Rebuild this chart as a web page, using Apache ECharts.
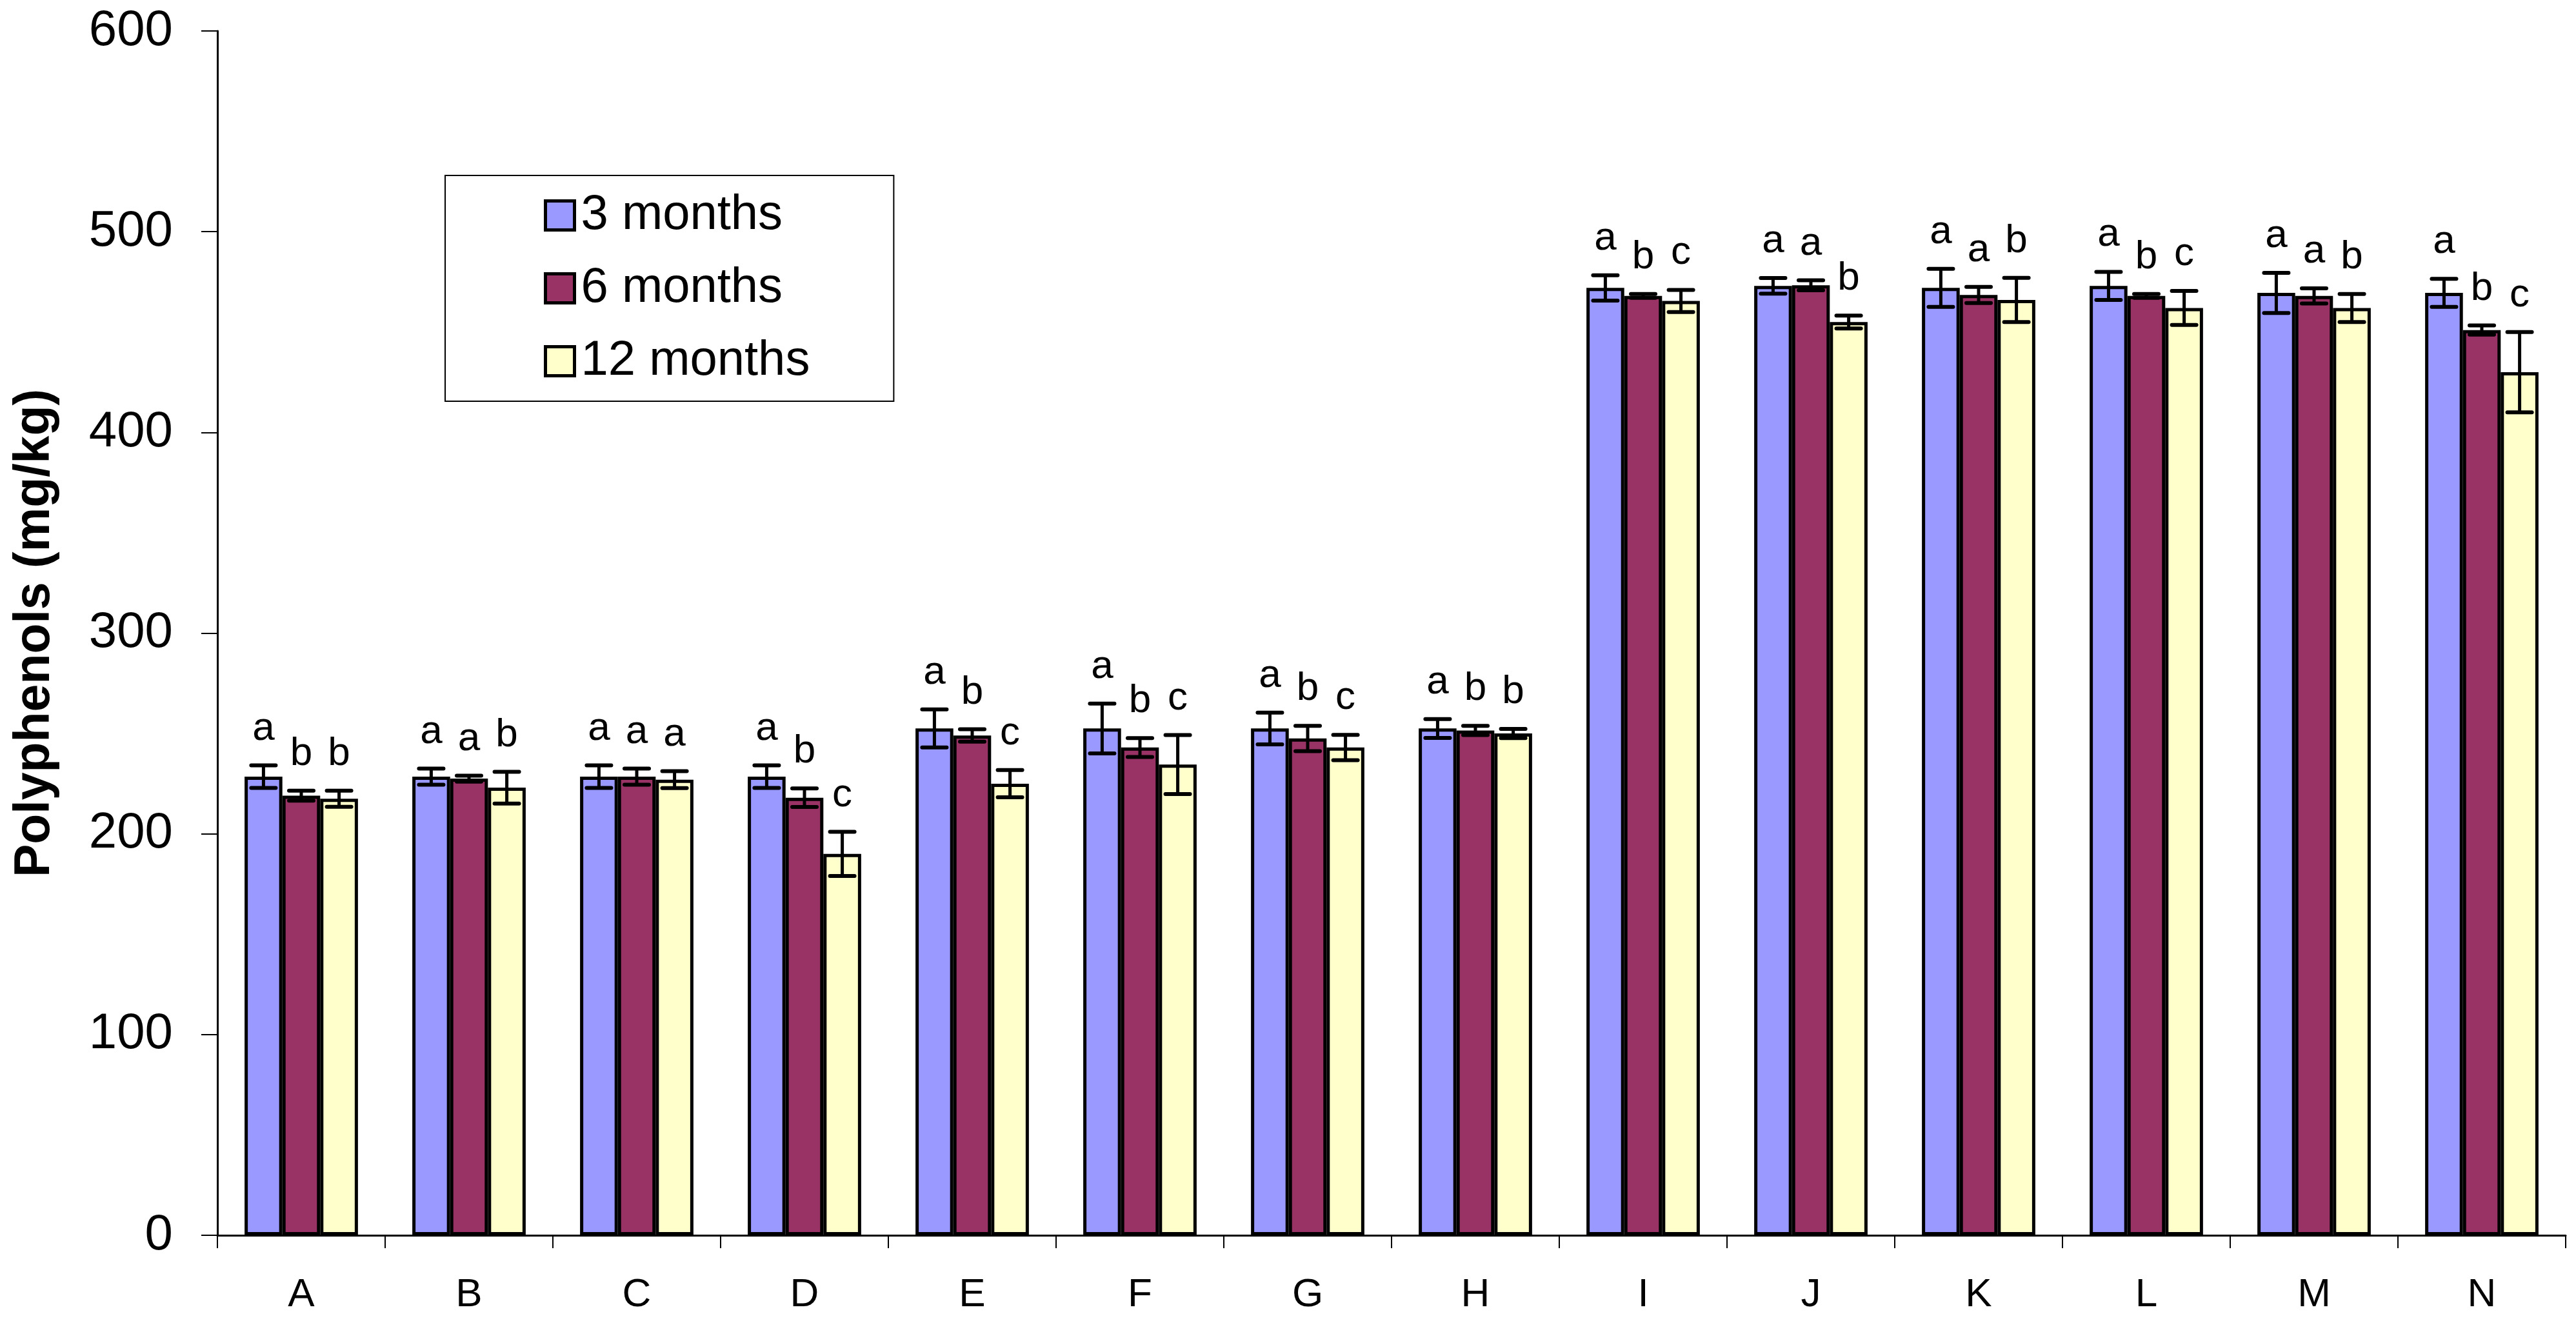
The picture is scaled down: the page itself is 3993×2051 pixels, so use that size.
<!DOCTYPE html>
<html>
<head>
<meta charset="utf-8">
<script src="https://cdn.jsdelivr.net/npm/echarts@6/dist/echarts.min.js"></script>
<style>
html,body{margin:0;padding:0;background:#fff;}
#chart{width:3993px;height:2051px;}
</style>
</head>
<body>
<div id="chart"></div>
<script>
const categories = ['A','B','C','D','E','F','G','H','I','J','K','L','M','N'];
const seriesNames = ['3 months','6 months','12 months'];
const yTicks = [0,100,200,300,400,500,600];

const m3  = [228.5,228.5,228.5,228.5,252.5,252.5,252.5,252.5,472,473,472,473,469.5,469.5];
const e3  = [5.6,4,5.6,5.6,9.5,12.4,7.9,4.7,6.3,3.9,9.5,7,10,7];
const m6  = [219,227.5,228.5,218,249,243,247.5,251.5,468,473.3,468.5,468,468,451];
const e6  = [2.5,1.5,4,4.6,3.1,4.7,6.3,2.3,1,2.5,4,1,3.8,2.3];
const m12 = [217.5,223,227,190,225,234.5,243,250,465.5,455,466,462,462,430];
const e12 = [4,7.9,4.2,11,6.8,14.7,6.3,2.3,5.5,3.2,11,8.5,7,20];

const let3  = ['a','a','a','a','a','a','a','a','a','a','a','a','a','a'];
const let6  = ['b','a','a','b','b','b','b','b','b','a','a','b','a','b'];
const let12 = ['b','b','a','c','c','c','c','b','c','b','b','c','b','c'];

const colors = ['#9999FF','#993366','#FFFFCC'];
const FONT = '"Liberation Sans", Arial, Helvetica, sans-serif';
const CAT_GAP = 0.324;

const means = [m3, m6, m12];
const errs = [e3, e6, e12];
const lets = [let3, let6, let12];

function makeRender(si) {
  return function (params, api) {
    const ci = api.value(0), v = api.value(1), e = api.value(2);
    const W = api.size([1, 0])[0];
    const bw = W * (1 - CAT_GAP) / 3;
    const cx = api.coord([ci, 0])[0] + (si - 1) * bw;
    const top = api.coord([ci, v + e])[1];
    const bot = api.coord([ci, v - e])[1];
    const ch = 19;
    return {
      type: 'group',
      children: [
        {type:'line', shape:{x1:cx,y1:top,x2:cx,y2:bot}, style:{stroke:'#000',lineWidth:5}},
        {type:'line', shape:{x1:cx-ch,y1:top,x2:cx+ch,y2:top}, style:{stroke:'#000',lineWidth:6,lineCap:'round'}},
        {type:'line', shape:{x1:cx-ch,y1:bot,x2:cx+ch,y2:bot}, style:{stroke:'#000',lineWidth:6,lineCap:'round'}},
        {type:'text', x:cx, y:top-26, style:{text: lets[si][params.dataIndex], fill:'#000', fontSize:62, fontFamily:FONT, align:'center', verticalAlign:'bottom'}}
      ]
    };
  };
}

const series = [];
for (let s = 0; s < 3; s++) {
  series.push({
    name: seriesNames[s],
    type: 'bar',
    data: means[s],
    barGap: '0%',
    barCategoryGap: (CAT_GAP * 100) + '%',
    itemStyle: {color: colors[s], borderColor: '#000', borderWidth: 5},
    emphasis: {disabled: true},
    z: 2
  });
}
for (let s = 0; s < 3; s++) {
  series.push({
    name: 'err' + s,
    type: 'custom',
    renderItem: makeRender(s),
    data: means[s].map((v, i) => [i, v, errs[s][i]]),
    encode: {x: 0, y: 1},
    z: 5,
    silent: true
  });
}

const chart = echarts.init(document.getElementById('chart'), null, {renderer: 'canvas'});
chart.setOption({
  animation: false,
  backgroundColor: '#fff',
  grid: {left: 337, right: 16, top: 48, bottom: 136, containLabel: false},
  legend: {
    data: seriesNames.map((n, i) => ({name: n, icon: 'rect', itemStyle: {color: colors[i], borderColor: '#000', borderWidth: 5}})),
    orient: 'vertical',
    left: 690, top: 272,
    padding: [24, 130, 24, 153],
    itemWidth: 45, itemHeight: 45, itemGap: 37,
    borderColor: '#000', borderWidth: 2,
    textStyle: {fontSize: 76, fontFamily: FONT, color: '#000', padding: [0, 0, 0, 5]},
    selectedMode: false
  },
  xAxis: {
    type: 'category',
    data: categories,
    axisLine: {lineStyle: {color: '#000', width: 3}},
    axisTick: {show: true, length: 20, lineStyle: {color: '#000', width: 2}},
    axisLabel: {fontSize: 62, fontFamily: FONT, color: '#000', margin: 62}
  },
  yAxis: {
    type: 'value',
    min: yTicks[0], max: yTicks[yTicks.length - 1], interval: 100,
    name: 'Polyphenols (mg/kg)',
    nameLocation: 'middle',
    nameGap: 244,
    nameTextStyle: {fontSize: 77, fontWeight: 'bold', fontFamily: FONT, color: '#000'},
    axisLine: {show: true, lineStyle: {color: '#000', width: 3}},
    axisTick: {show: true, length: 25, lineStyle: {color: '#000', width: 2}},
    axisLabel: {fontSize: 78, fontFamily: FONT, color: '#000', margin: 69},
    splitLine: {show: false}
  },
  series: series
});
</script>
</body>
</html>
